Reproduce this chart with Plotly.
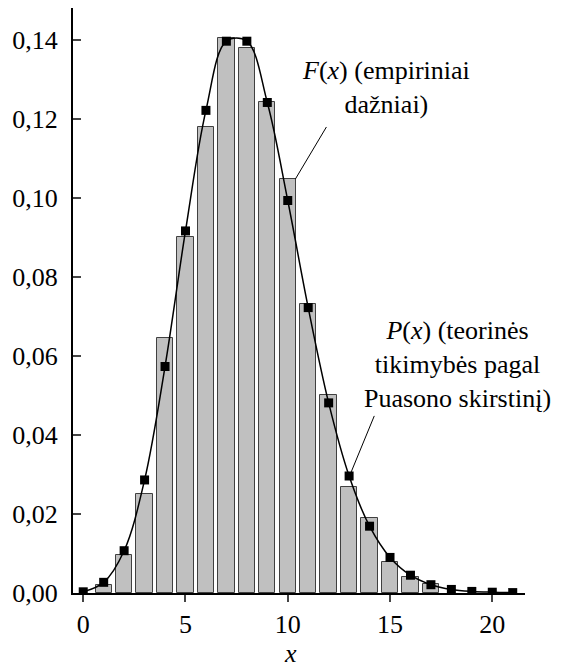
import plotly.graph_objects as go

# Empirical frequencies F(x) (bars) and Poisson probabilities P(x) (points)
bar_x = [1, 2, 3, 4, 5, 6, 7, 8, 9, 10, 11, 12, 13, 14, 15, 16, 17]
bar_freq = [0.0020, 0.0095, 0.0250, 0.0646, 0.0900, 0.1179, 0.1404, 0.1379,
            0.1241, 0.1047, 0.0730, 0.0502, 0.0269, 0.0189, 0.0079, 0.0040, 0.0022]

pt_x = list(range(0, 22))
pt_prob = [0.0003, 0.0027, 0.0107, 0.0286, 0.0573, 0.0916, 0.1221, 0.1396,
           0.1396, 0.1241, 0.0993, 0.0722, 0.0481, 0.0296, 0.0169, 0.0090,
           0.0045, 0.0021, 0.0009, 0.0004, 0.0002, 0.0001]

x_ticks = [0, 5, 10, 15, 20]
y_ticks = [0.00, 0.02, 0.04, 0.06, 0.08, 0.10, 0.12, 0.14]

FONT = "Liberation Serif"
TICK_SIZE = 26
TEXT_SIZE = 26

fig = go.Figure()

fig.add_trace(go.Bar(
    x=bar_x, y=bar_freq, width=0.8,
    marker=dict(color="#c0c0c0", line=dict(color="#404040", width=1)),
    showlegend=False, hoverinfo="x+y",
))

fig.add_trace(go.Scatter(
    x=pt_x, y=pt_prob, mode="lines+markers",
    line=dict(color="black", width=1.5, shape="spline", smoothing=1),
    marker=dict(symbol="square", size=9, color="black"),
    showlegend=False,
))

# Leader lines from the labels to the marks
fig.add_shape(type="line", xref="x", yref="y", x0=10.37, y0=0.1047, x1=11.89, y1=0.1179,
              line=dict(color="black", width=1))
fig.add_shape(type="line", xref="x", yref="y", x0=13.1, y0=0.0306, x1=14.23, y1=0.0448,
              line=dict(color="black", width=1))

fig.add_annotation(x=14.82, y=0.1278, xref="x", yref="y", showarrow=False,
                   text="<i>F</i>(<i>x</i>) (empiriniai<br>dažniai)",
                   font=dict(family=FONT, size=TEXT_SIZE, color="black"), align="center",
                   xanchor="center", yanchor="middle")
fig.add_annotation(x=18.29, y=0.0579, xref="x", yref="y", showarrow=False,
                   text="<i>P</i>(<i>x</i>) (teorinės<br>tikimybės pagal<br>Puasono skirstinį)",
                   font=dict(family=FONT, size=TEXT_SIZE, color="black"), align="center",
                   xanchor="center", yanchor="middle")
fig.add_annotation(x=10.13, y=-0.104, xref="x", yref="paper", showarrow=False,
                   text="<i>x</i>", font=dict(family=FONT, size=TEXT_SIZE, color="black"),
                   xanchor="center", yanchor="middle")

fig.update_layout(
    width=563, height=668,
    margin=dict(l=73, r=38, t=8, b=75),
    paper_bgcolor="white", plot_bgcolor="white",
    separators=",.",
    font=dict(family=FONT, size=TICK_SIZE, color="black"),
    bargap=0,
)

fig.update_xaxes(
    range=[-0.5, 21.6], tickvals=x_ticks, ticks="outside", ticklen=7, tickwidth=2,
    showline=True, linecolor="black", linewidth=2, showgrid=False, zeroline=False,
    tickfont=dict(family=FONT, size=TICK_SIZE),
)
fig.update_yaxes(
    range=[0, 0.148], tickvals=y_ticks, tickformat=".2f", ticks="inside", ticklen=8,
    tickwidth=2, showline=True, linecolor="black", linewidth=2, showgrid=False,
    zeroline=False, tickfont=dict(family=FONT, size=TICK_SIZE), ticklabelstandoff=8,
)

fig.write_html("out.html")
